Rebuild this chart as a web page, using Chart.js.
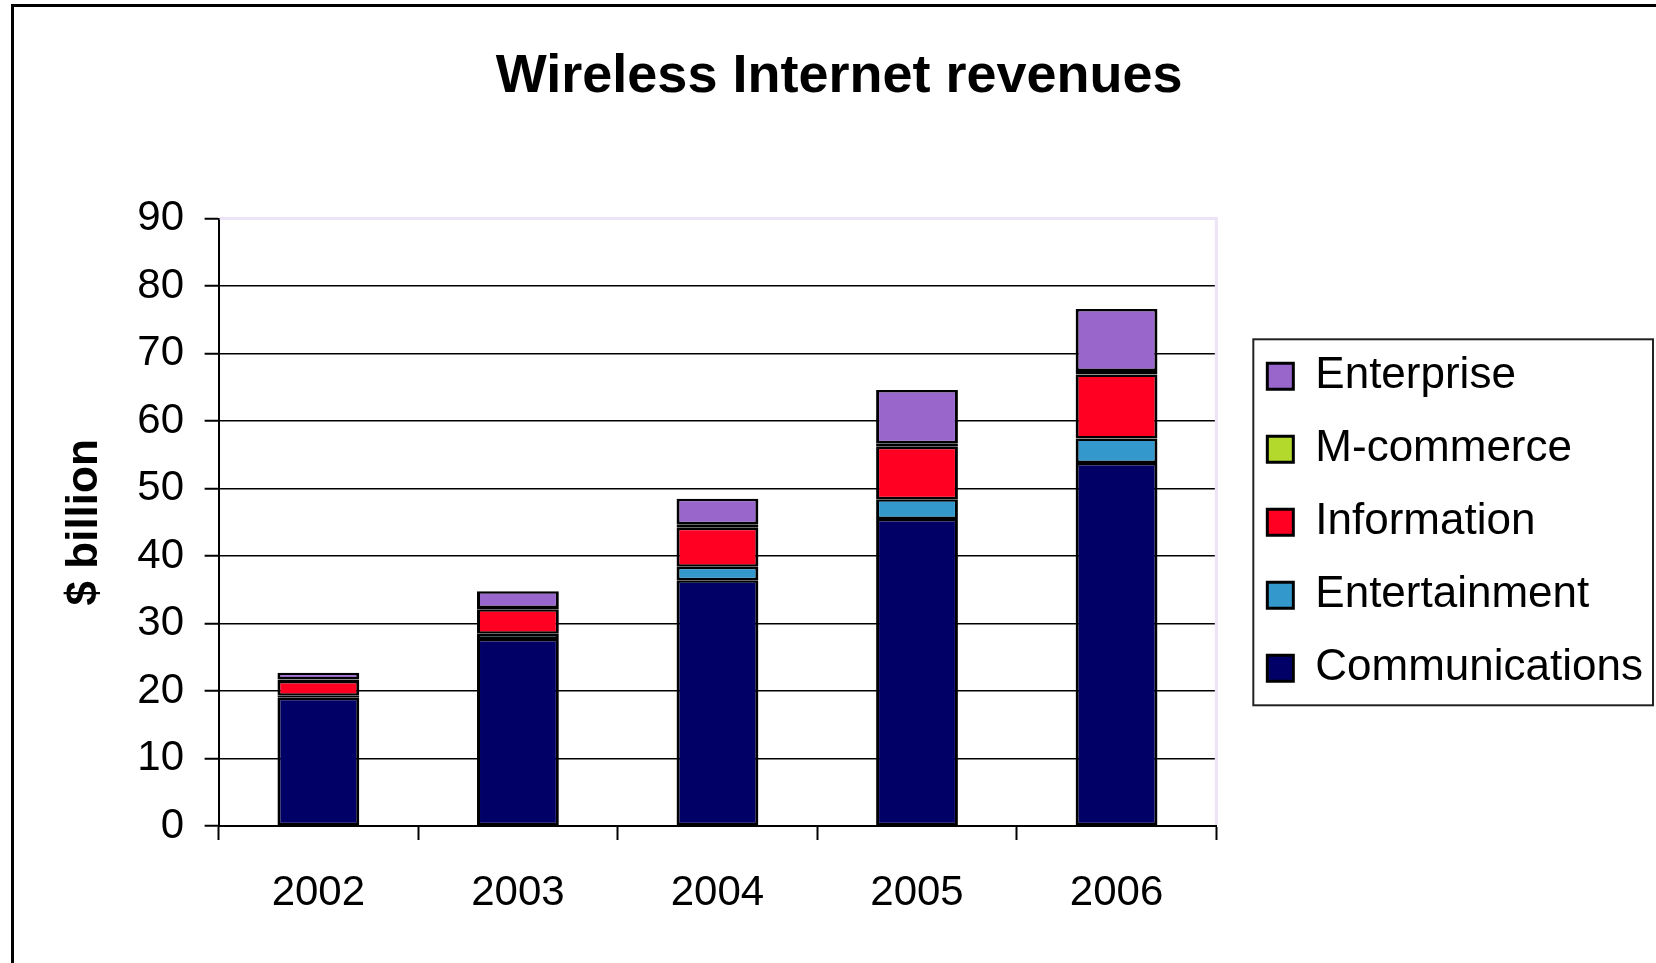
<!DOCTYPE html>
<html>
<head>
<meta charset="utf-8">
<title>Wireless Internet revenues</title>
<script src="https://cdn.jsdelivr.net/npm/chart.js@4"></script>
<style>
  html, body { margin: 0; padding: 0; background: #fff; overflow: hidden; }
  #frame { position: absolute; left: 11px; top: 4px; width: 2000px; height: 2000px; border: 3px solid #000; }
  #chart { position: absolute; left: 0; top: 0; }
</style>
</head>
<body>
<div id="frame"></div>
<canvas id="chart" width="1656" height="963"></canvas>
<script>
// ====== DATA ======
const years = ['2002', '2003', '2004', '2005', '2006'];
const communications = [19.0, 27.7, 36.4, 45.5, 53.8];
const entertainment = [0.3, 0.8, 2.0, 2.9, 3.6];
const information = [2.2, 3.6, 5.8, 7.8, 9.5];
const mCommerce = [0.2, 0.2, 0.5, 0.5, 0.5];
const enterprise = [1.0, 2.5, 3.8, 7.9, 9.2];
const yTicks = [0, 10, 20, 30, 40, 50, 60, 70, 80, 90];

const FONT = '"Liberation Sans", Arial, sans-serif';
const LEGEND_PAD = 29;
Chart.defaults.font.family = FONT;
Chart.defaults.color = '#000';

// light lavender edge on top/right of plot area
const plotFrame = {
  id: 'plotFrame',
  beforeDatasetsDraw(chart) {
    const { ctx, chartArea: a } = chart;
    ctx.save();
    ctx.strokeStyle = '#ECE4F6';
    ctx.lineWidth = 3;
    ctx.beginPath();
    ctx.moveTo(a.left + 1, a.top);
    ctx.lineTo(a.right, a.top);
    ctx.lineTo(a.right, a.bottom - 1);
    ctx.stroke();
    ctx.restore();
  }
};

// box around the legend
const legendFrame = {
  id: 'legendFrame',
  afterDraw(chart) {
    const lg = chart.legend;
    const rowH = 44 + LEGEND_PAD;
    const n = lg.legendItems.length;
    const y0 = (lg.top + LEGEND_PAD + lg.bottom - n * rowH) / 2;
    const x0 = lg.left + 15;
    const ctx = chart.ctx;
    ctx.save();
    ctx.strokeStyle = '#222';
    ctx.lineWidth = 2;
    ctx.strokeRect(x0, y0 - 15, chart.width - 3 - x0, n * rowH - LEGEND_PAD + 30);
    ctx.restore();
  }
};

function series(label, data, color) {
  return {
    label, data,
    backgroundColor: color,
    borderColor: '#000',
    borderWidth: { top: 2.5, right: 3, bottom: 2.5, left: 3 },
    borderSkipped: false,
    inflateAmount: 0,
    barPercentage: 0.41,
    categoryPercentage: 1
  };
}

new Chart(document.getElementById('chart'), {
  type: 'bar',
  data: {
    labels: years,
    datasets: [
      series('Communications', communications, '#000066'),
      series('Entertainment', entertainment, '#3399CC'),
      series('Information', information, '#FF0022'),
      series('M-commerce', mCommerce, '#B2D92B'),
      series('Enterprise', enterprise, '#9966CC')
    ]
  },
  options: {
    responsive: false,
    animation: false,
    events: [],
    layout: { padding: { left: 25.4, right: 3, top: 0, bottom: 0 } },
    plugins: {
      tooltip: { enabled: false },
      title: {
        display: true,
        text: 'Wireless Internet revenues',
        color: '#000',
        font: { family: FONT, size: 54, weight: 'bold' },
        padding: { top: 44.6, bottom: 109.2 }
      },
      legend: {
        position: 'right',
        fullSize: false,
        reverse: true,
        maxWidth: 440,
        labels: {
          color: '#000',
          font: { family: FONT, size: 44 },
          boxWidth: 26,
          boxHeight: 26,
          padding: LEGEND_PAD,
          generateLabels: chart =>
            Chart.defaults.plugins.legend.labels.generateLabels(chart).map(l => ({ ...l, lineWidth: 3 }))
        }
      }
    },
    scales: {
      x: {
        stacked: true,
        offset: true,
        grid: { display: true, drawOnChartArea: false, drawTicks: true, tickLength: 14, tickColor: '#000', tickWidth: 2 },
        border: { display: true, color: '#000', width: 2 },
        ticks: { color: '#000', font: { family: FONT, size: 42 }, padding: 27.8 },
        afterFit: s => { s.height = 137; }
      },
      y: {
        stacked: true,
        min: 0,
        max: 90,
        afterBuildTicks: s => { s.ticks = yTicks.map(v => ({ value: v })); },
        grid: { color: '#000', lineWidth: 1.5, tickLength: 14, tickColor: '#000', tickWidth: 2 },
        border: { display: true, color: '#000', width: 2 },
        ticks: { color: '#000', font: { family: FONT, size: 42 }, padding: 20.6 },
        title: {
          display: true,
          text: '$ billion',
          color: '#000',
          font: { family: FONT, size: 44, weight: 'bold' },
          padding: { top: 33.2, bottom: 0 }
        },
        afterFit: s => { s.width = 193.2; }
      },
      y2: {
        position: 'right',
        display: true,
        grid: { display: false },
        border: { display: false },
        ticks: { display: false },
        afterFit: s => { s.width = 22; }
      }
    }
  },
  plugins: [plotFrame, legendFrame]
});
</script>
</body>
</html>
